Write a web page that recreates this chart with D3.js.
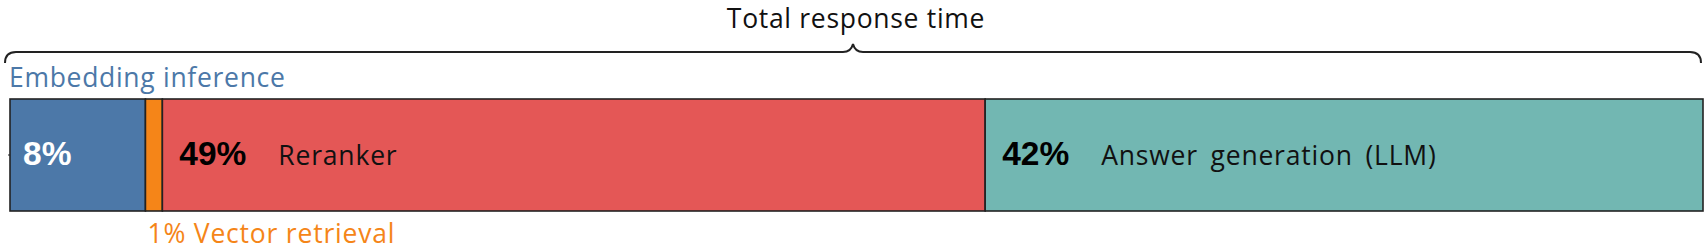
<!DOCTYPE html>
<html>
<head>
<meta charset="utf-8">
<script src="https://cdn.jsdelivr.net/npm/d3@7"></script>
<style>
  html, body { margin: 0; padding: 0; background: #fff; }
  svg { display: block; }
</style>
</head>
<body>
<svg id="chart" width="1708" height="251"></svg>
<script>
const stages = ["Embedding inference", "Vector retrieval", "Reranker", "Answer generation (LLM)"];
const shares = [8.0, 1.0, 48.6, 42.4];
const colors = ["#4c78a8", "#f58518", "#e45756", "#72b7b2"];
const pctColors = ["#ffffff", "#000000", "#000000", "#000000"];
const title = "Total response time";

const W = 1708, H = 251;
const svg = d3.select("#chart");
const labelFont = "'Open Sans', Lato, sans-serif";
const pctFont = "'Liberation Sans', Arial, sans-serif";

const x = d3.scaleLinear().domain([0, d3.sum(shares)]).range([10, 1703]);
const y = d3.scaleBand().domain(["total"]).range([99, 211]).padding(0);

const starts = d3.cumsum([0].concat(shares)).slice(0, shares.length);
const data = stages.map((s, i) => ({ name: s, v: shares[i], x0: starts[i], x1: starts[i] + shares[i], color: colors[i], pc: pctColors[i], i }));
const fmt = d => d3.format(".0f")(d) + "%";

// tiny y axis tick
const yAxis = d3.axisLeft(y).tickSize(2).tickFormat("");
svg.append("g").attr("transform", "translate(10,0)").call(yAxis)
  .call(g => g.select(".domain").remove())
  .call(g => g.selectAll("line").attr("stroke", "#222"));

// bars
svg.append("g").selectAll("rect").data(data).join("rect")
  .attr("x", d => x(d.x0))
  .attr("y", y("total"))
  .attr("width", d => x(d.x1) - x(d.x0))
  .attr("height", y.bandwidth())
  .attr("fill", d => d.color)
  .attr("stroke", "#222")
  .attr("stroke-width", 1.6);

const midY = y("total") + y.bandwidth() / 2;

// percentage labels inside big segments
const inside = data.filter(d => d.v >= 5);
svg.append("g").selectAll("text").data(inside).join("text")
  .attr("x", d => x(d.x0) + (d.i === 0 ? 13 : 17))
  .attr("y", midY + 10)
  .attr("font-family", pctFont)
  .attr("font-weight", "bold")
  .attr("font-size", 33.5)
  .attr("fill", d => d.pc)
  .text(d => fmt(d.v));

// name labels inside (Reranker, Answer generation)
svg.append("g").selectAll("text").data(inside.filter(d => d.i >= 2)).join("text")
  .attr("x", d => x(d.x0) + 116)
  .attr("y", midY + 10)
  .attr("font-family", labelFont)
  .attr("font-size", 26.5)
  .attr("letter-spacing", 0.8)
  .attr("word-spacing", 5)
  .attr("fill", "#111")
  .text(d => d.name);

// Embedding inference label above
svg.append("text")
  .attr("x", x(data[0].x0) - 1)
  .attr("y", 87)
  .attr("font-family", labelFont)
  .attr("font-size", 26.5)
  .attr("letter-spacing", 0.7)
  .attr("fill", colors[0])
  .text(stages[0]);

// Vector retrieval below
svg.append("text")
  .attr("x", x(data[1].x0) + 2)
  .attr("y", 243)
  .attr("font-family", labelFont)
  .attr("font-size", 26.5)
  .attr("letter-spacing", 0.8)
  .attr("fill", colors[1])
  .text(fmt(shares[1]) + " " + stages[1]);

// brace
const bx0 = 5, bx1 = 1701, by = 52, r = 11, bmid = 853;
const brace = d3.path();
brace.moveTo(bx0, by + r);
brace.quadraticCurveTo(bx0, by, bx0 + r, by);
brace.lineTo(bmid - 10, by);
brace.quadraticCurveTo(bmid - 2, by, bmid, by - 8);
brace.quadraticCurveTo(bmid + 2, by, bmid + 10, by);
brace.lineTo(bx1 - r, by);
brace.quadraticCurveTo(bx1, by, bx1, by + r);
svg.append("path").attr("d", brace.toString())
  .attr("fill", "none").attr("stroke", "#222").attr("stroke-width", 2);

svg.append("text")
  .attr("x", 856)
  .attr("y", 28)
  .attr("text-anchor", "middle")
  .attr("font-family", labelFont)
  .attr("font-size", 26.5)
  .attr("letter-spacing", 0.7)
  .attr("fill", "#111")
  .text(title);
</script>
</body>
</html>
